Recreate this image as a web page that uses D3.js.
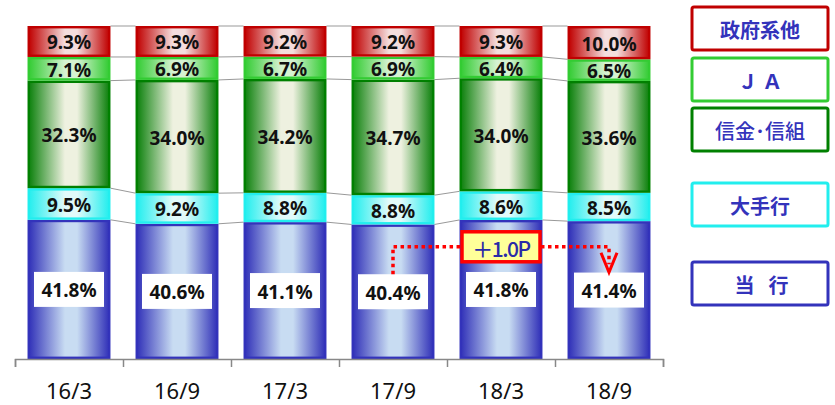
<!DOCTYPE html>
<html><head><meta charset="utf-8">
<script src="https://cdn.jsdelivr.net/npm/d3@7"></script>
<style>
html,body{margin:0;padding:0;background:#fff;}
svg{display:block;}
</style></head>
<body><svg id="c" width="835" height="405"></svg>
<script>
const categories = ["16/3","16/9","17/3","17/9","18/3","18/9"];
const seriesKeys = ["当行","大手行","信金・信組","JA","政府系他"]; // bottom to top
const toukou   = [41.8, 40.6, 41.1, 40.4, 41.8, 41.4];
const oote     = [9.5, 9.2, 8.8, 8.8, 8.6, 8.5];
const shinkin  = [32.3, 34.0, 34.2, 34.7, 34.0, 33.6];
const ja       = [7.1, 6.9, 6.7, 6.9, 6.4, 6.5];
const seifu    = [9.3, 9.3, 9.2, 9.2, 9.3, 10.0];
const legendLabels = ["政府系他","Ｊ Ａ","信金･信組","大手行","当　行"]; // top to bottom
const annotationText = "＋1.0P";

const seriesValues = [toukou, oote, shinkin, ja, seifu];
const edgeColors   = ["#3030b8","#22eeee","#0b800b","#33cc33","#c00000"];
const centerColors = ["#c8dcf2","#e2fafa","#eef1e0","#d6f2d2","#f4dede"];
const strokeColors = ["#3333bb","#22eeee","#008000","#33cc33","#c00000"];

const table = categories.map((c,i)=>{
  const o = {cat:c};
  seriesKeys.forEach((k,j)=>o[k]=seriesValues[j][i]);
  return o;
});
const stack = d3.stack().keys(seriesKeys).offset(d3.stackOffsetExpand)(table);

const svg = d3.select("#c");
const x = d3.scaleBand().domain(categories).range([15,663]).paddingInner(0.232).paddingOuter(0.116);
const y = d3.scaleLinear().domain([0,1]).range([359,26]);

const defs = svg.append("defs");
seriesKeys.forEach((k,j)=>{
  const g = defs.append("linearGradient").attr("id","g"+j).attr("x1","0").attr("x2","1").attr("y1","0").attr("y2","0");
  g.append("stop").attr("offset","0").attr("stop-color",edgeColors[j]);
  g.append("stop").attr("offset","0.45").attr("stop-color",centerColors[j]);
  g.append("stop").attr("offset","0.6").attr("stop-color",centerColors[j]);
  g.append("stop").attr("offset","1").attr("stop-color",edgeColors[j]);
});

// series connector lines
const boundaries = stack.map(s=>s.map(d=>d[1]));
boundaries.forEach(b=>{
  for(let i=0;i<categories.length-1;i++){
    svg.append("line")
      .attr("x1",x(categories[i])+x.bandwidth()).attr("y1",y(b[i]))
      .attr("x2",x(categories[i+1])).attr("y2",y(b[i+1]))
      .attr("stroke","#999").attr("stroke-width",1);
  }
});

// bars
stack.forEach((s,j)=>{
  svg.append("g").selectAll("rect").data(s).join("rect")
    .attr("x",d=>x(d.data.cat)+1.2)
    .attr("width",x.bandwidth()-2.4)
    .attr("y",d=>y(d[1])+1.2)
    .attr("height",d=>y(d[0])-y(d[1])-2.4)
    .attr("fill","url(#g"+j+")")
    .attr("stroke",strokeColors[j]).attr("stroke-width",2.4);
});

// labels
stack.forEach((s,j)=>{
  const g = svg.append("g");
  s.forEach((d,i)=>{
    const cx = x(d.data.cat)+x.bandwidth()/2;
    const cy = (y(d[0])+y(d[1]))/2;
    if(j===0){
      g.append("rect").attr("x",cx-35).attr("y",cy-17.5).attr("width",70).attr("height",35).attr("fill","#fff");
    }
    g.append("text").attr("x",cx).attr("y",cy+1).attr("text-anchor","middle").attr("dominant-baseline","central")
      .attr("font-family","'Noto Sans', sans-serif").attr("font-weight","bold").attr("font-size",19)
      .attr("fill","#111").text(seriesValues[j][i].toFixed(1)+"%");
  });
});

// axis
const xb = d3.scaleLinear().domain([0,categories.length]).range([15,663]);
const ax1 = svg.append("g").attr("transform","translate(0,359)")
  .call(d3.axisBottom(xb).ticks(6).tickSize(8).tickSizeOuter(8).tickFormat(""));
ax1.selectAll("path,line").attr("stroke","#888").attr("stroke-width",1.5);
const ax2 = svg.append("g").attr("transform","translate(0,359)")
  .call(d3.axisBottom(x).tickSize(0).tickPadding(24));
ax2.select(".domain").remove();
ax2.selectAll("text").attr("font-family","'Noto Sans', sans-serif").attr("font-size",22).attr("fill","#111");

// legend
const legTops = [6,57,107,182,261];
legendLabels.forEach((t,i)=>{
  const j = seriesKeys.length-1-i;
  svg.append("rect").attr("x",692).attr("y",legTops[i]+1).attr("width",136).attr("height",43).attr("rx",2)
    .attr("fill","#fff").attr("stroke",strokeColors[j]).attr("stroke-width",3);
  svg.append("text").attr("x",760).attr("y",legTops[i]+23).attr("text-anchor","middle").attr("dominant-baseline","central")
    .attr("font-family","'Noto Sans CJK JP', sans-serif").attr("font-weight", i===2?"500":"bold").attr("font-size",20)
    .attr("letter-spacing", i===4?"-3px":"0")
    .attr("fill","#3333bb").text(t);
});

// annotation
const c4 = x(categories[3])+x.bandwidth()/2;
const c5 = x(categories[4])+x.bandwidth()/2;
const c6 = x(categories[5])+x.bandwidth()/2;
const lineY = y(0.337);
const box4Top = (y(0)+y(toukou[3]/100))/2-17.5;
const dot = {stroke:"#ff0000","stroke-width":3.5,"stroke-dasharray":"3.5,3.5",fill:"none"};
const p1 = svg.append("path").attr("d",`M${c4},${box4Top}V${lineY}H${c5-40}`);
const p2 = svg.append("path").attr("d",`M${c5+40},${lineY}H${c6}V${box4Top-10}`);
[p1,p2].forEach(p=>Object.entries(dot).forEach(([k,v])=>p.attr(k,v)));
svg.append("path").attr("d",`M${c6-8},${lineY+6}L${c6},${box4Top-2}L${c6+8},${lineY+6}`)
  .attr("fill","none").attr("stroke","#ff0000").attr("stroke-width",3);
svg.append("rect").attr("x",c5-39).attr("y",lineY-15).attr("width",78).attr("height",30)
  .attr("fill","#ffff99").attr("stroke","#ff0000").attr("stroke-width",3.5);
svg.append("text").attr("x",c5).attr("y",lineY+1).attr("text-anchor","middle").attr("dominant-baseline","central")
  .attr("font-family","'Noto Sans CJK JP', sans-serif").attr("font-weight","500").attr("font-size",21).attr("letter-spacing","-1.5px")
  .attr("fill","#2a2aa8").text(annotationText);
</script></body></html>
